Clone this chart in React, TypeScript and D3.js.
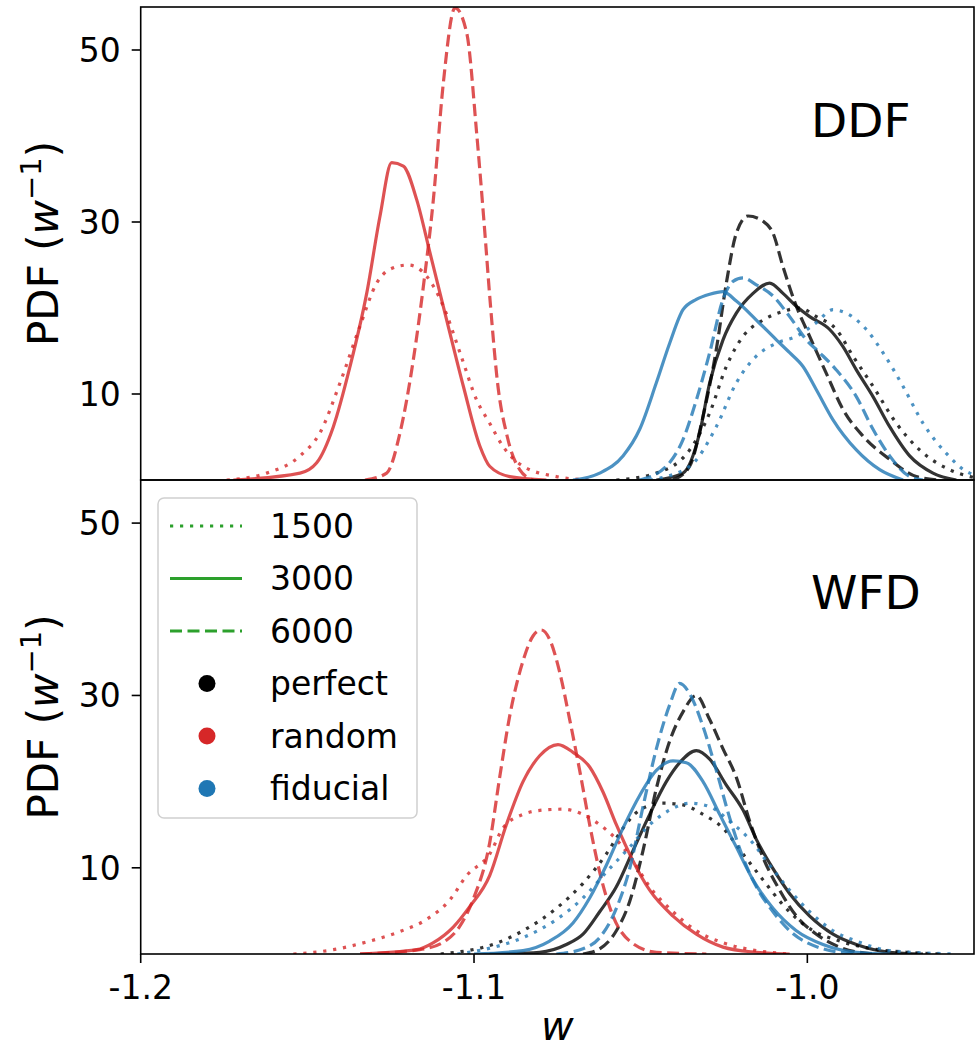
import React from "react";
import * as d3 from "d3";

// ---------- data (w, PDF) ----------
const xTicks = [-1.2, -1.1, -1.0];
const xTickLabels = ["-1.2", "-1.1", "-1.0"];
const yTicks = [10, 30, 50];
const panelNames = ["DDF", "WFD"];
const sizes = ["1500", "3000", "6000"];
const categories = ["perfect", "random", "fiducial"];

// DDF
const ddfPerfect1500 = [[-1.0573,0],[-1.0453,0.8],[-1.0353,3.5],[-1.0293,7.8],[-1.0243,13.2],[-1.0193,16.7],[-1.0133,18.6],[-1.0073,19.6],[-1.0023,20.0],[-0.9973,19.0],[-0.9913,17.5],[-0.9863,14.4],[-0.9803,10.9],[-0.9733,6.6],[-0.9663,3.5],[-0.9573,1.2],[-0.9513,0.4],[-0.945,0.1]];
const ddfPerfect3000 = [[-1.0453,0],[-1.0373,0.8],[-1.0323,5.5],[-1.0293,11.3],[-1.0253,16.3],[-1.0213,19.4],[-1.0163,21.7],[-1.0113,22.9],[-1.0073,21.7],[-1.0033,20.2],[-0.9993,19.0],[-0.9933,17.5],[-0.9893,15.5],[-0.9853,12.8],[-0.9803,9.7],[-0.9753,6.2],[-0.9693,2.8],[-0.9623,0.8],[-0.9553,0]];
const ddfPerfect6000 = [[-1.0403,0],[-1.0353,1.6],[-1.0313,7.4],[-1.0273,15.2],[-1.0243,22.9],[-1.0213,28.7],[-1.0178,30.7],[-1.0133,30.1],[-1.0103,28.7],[-1.0073,24.8],[-1.0033,20.2],[-0.9993,16.7],[-0.9943,12.4],[-0.9893,8.2],[-0.9833,5.1],[-0.9753,2.4],[-0.9673,0.4],[-0.9603,0]];
const ddfRandom1500 = [[-1.1742,0],[-1.1622,0.8],[-1.1522,2.8],[-1.1462,5.5],[-1.1402,11.3],[-1.1342,17.9],[-1.1292,22.9],[-1.1252,24.5],[-1.1197,25.0],[-1.1142,23.7],[-1.1092,20.2],[-1.1042,14.8],[-1.0992,9.3],[-1.0953,6.6],[-1.0913,3.9],[-1.0853,1.6],[-1.0753,0.4],[-1.0653,0]];
const ddfRandom3000 = [[-1.1722,0],[-1.1522,0.8],[-1.1472,2.0],[-1.1422,6.2],[-1.1372,13.2],[-1.1322,21.7],[-1.1282,30.7],[-1.1247,36.9],[-1.1212,36.5],[-1.1172,32.6],[-1.1132,26.4],[-1.1082,18.6],[-1.1032,10.9],[-1.0982,3.9],[-1.0953,1.6],[-1.0893,0.4],[-1.0783,0]];
const ddfRandom6000 = [[-1.1327,0],[-1.1262,0.8],[-1.1222,5.5],[-1.1182,14.0],[-1.1152,22.5],[-1.1122,32.6],[-1.1092,46.2],[-1.1057,54.9],[-1.1022,52.0],[-1.0992,40.3],[-1.0970,30.0],[-1.0950,20.0],[-1.0930,11.5],[-1.0900,5.0],[-1.0863,1.2],[-1.0823,0]];
const ddfFiducial1500 = [[-1.0473,0],[-1.0353,1.6],[-1.0273,6.2],[-1.0213,11.3],[-1.0153,14.4],[-1.0093,15.9],[-1.0033,16.7],[-0.9973,18.3],[-0.9923,19.8],[-0.9883,19.4],[-0.9823,17.5],[-0.9773,14.8],[-0.9713,10.9],[-0.9653,6.6],[-0.9583,3.1],[-0.9513,0.8],[-0.945,0.3]];
const ddfFiducial3000 = [[-1.0703,0],[-1.0623,0.8],[-1.0553,2.8],[-1.0503,5.9],[-1.0453,11.3],[-1.0413,15.9],[-1.0373,19.8],[-1.0333,21.0],[-1.0293,21.6],[-1.0253,21.9],[-1.0213,20.8],[-1.0153,18.6],[-1.0093,16.3],[-1.0053,14.8],[-1.0013,13.2],[-0.9973,10.5],[-0.9923,7.0],[-0.9853,3.5],[-0.9783,1.2],[-0.9713,0]];
const ddfFiducial6000 = [[-1.0503,0],[-1.0423,1.6],[-1.0373,4.7],[-1.0333,9.3],[-1.0293,14.8],[-1.0253,21.0],[-1.0223,23.1],[-1.0193,23.5],[-1.0153,22.7],[-1.0103,21.4],[-1.0053,19.0],[-1.0003,16.3],[-0.9963,14.8],[-0.9913,12.8],[-0.9853,9.7],[-0.9803,5.9],[-0.9753,2.8],[-0.9693,0.4],[-0.9653,0]];

// WFD
const wfdPerfect1500 = [[-1.1100,0],[-1.0923,1.4],[-1.0853,2.7],[-1.0753,5.3],[-1.0673,8.2],[-1.0603,11.6],[-1.0553,14.6],[-1.0503,16.7],[-1.0433,17.5],[-1.0373,17.3],[-1.0313,16.2],[-1.0253,14.6],[-1.0193,11.6],[-1.0133,8.6],[-1.0073,5.7],[-1.0003,3.2],[-0.9903,1.5],[-0.9803,0.6],[-0.9703,0.2],[-0.9603,0]];
const wfdPerfect3000 = [[-1.0953,0],[-1.0803,0.2],[-1.0723,1.1],[-1.0673,2.3],[-1.0623,4.9],[-1.0573,7.8],[-1.0523,12.0],[-1.0473,16.2],[-1.0423,20.0],[-1.0383,22.2],[-1.0333,23.6],[-1.0293,22.6],[-1.0243,19.6],[-1.0193,16.7],[-1.0153,13.3],[-1.0103,9.9],[-1.0053,7.0],[-0.9993,4.4],[-0.9923,2.3],[-0.9853,1.1],[-0.9753,0.2],[-0.9653,0]];
const wfdPerfect6000 = [[-1.0673,0],[-1.0623,0.6],[-1.0573,2.7],[-1.0533,6.1],[-1.0493,12.0],[-1.0453,19.2],[-1.0413,24.7],[-1.0373,28.1],[-1.0333,30.0],[-1.0293,27.2],[-1.0253,23.8],[-1.0213,20.5],[-1.0173,15.4],[-1.0133,11.2],[-1.0083,7.4],[-1.0033,4.4],[-0.9973,2.3],[-0.9903,0.8],[-0.9803,0]];
const wfdRandom1500 = [[-1.1542,0],[-1.1422,0.5],[-1.1322,1.4],[-1.1223,2.6],[-1.1143,4.0],[-1.1072,6.3],[-1.1022,9.1],[-1.0953,11.6],[-1.0913,14.6],[-1.0853,16.2],[-1.0793,16.7],[-1.0733,16.8],[-1.0673,16.2],[-1.0623,15.0],[-1.0573,13.3],[-1.0523,10.8],[-1.0473,7.8],[-1.0403,4.9],[-1.0333,2.7],[-1.0253,1.3],[-1.0153,0.4],[-1.0053,0]];
const wfdRandom3000 = [[-1.1342,0],[-1.1172,0.5],[-1.1123,1.3],[-1.1063,3.1],[-1.1013,5.5],[-1.0953,9.1],[-1.0903,15.0],[-1.0853,20.0],[-1.0803,23.0],[-1.0748,24.3],[-1.0703,23.4],[-1.0653,21.7],[-1.0613,18.8],[-1.0573,15.0],[-1.0523,10.8],[-1.0473,7.4],[-1.0403,4.4],[-1.0333,2.3],[-1.0253,0.8],[-1.0153,0.2],[-1.0053,0]];
const wfdRandom6000 = [[-1.1342,0],[-1.1163,0.5],[-1.1083,1.6],[-1.1043,3.2],[-1.1003,6.3],[-1.0953,12.9],[-1.0923,20.5],[-1.0893,27.6],[-1.0853,34.0],[-1.0823,36.9],[-1.0798,37.6],[-1.0773,36.5],[-1.0743,32.7],[-1.0713,27.2],[-1.0683,21.3],[-1.0653,15.0],[-1.0623,9.5],[-1.0583,4.4],[-1.0533,1.5],[-1.0453,0.2],[-1.0303,0]];
const wfdFiducial1500 = [[-1.1050,0],[-1.0973,0.5],[-1.0853,1.9],[-1.0753,4.0],[-1.0673,6.5],[-1.0603,9.5],[-1.0533,12.4],[-1.0473,15.0],[-1.0413,16.7],[-1.0353,17.5],[-1.0293,17.1],[-1.0233,15.4],[-1.0173,13.3],[-1.0113,10.3],[-1.0053,7.4],[-0.9993,4.9],[-0.9923,2.7],[-0.9853,1.5],[-0.9753,0.4],[-0.9553,0]];
const wfdFiducial3000 = [[-1.1000,0],[-1.0853,0.4],[-1.0773,1.5],[-1.0703,3.6],[-1.0653,6.5],[-1.0603,10.3],[-1.0553,14.6],[-1.0503,18.4],[-1.0453,21.3],[-1.0403,22.4],[-1.0363,22.2],[-1.0313,20.0],[-1.0263,16.2],[-1.0213,12.4],[-1.0163,8.6],[-1.0103,5.3],[-1.0033,2.7],[-0.9953,1.1],[-0.9853,0.2],[-0.9753,0]];
const wfdFiducial6000 = [[-1.0753,0],[-1.0673,0.6],[-1.0623,1.9],[-1.0573,5.3],[-1.0533,9.9],[-1.0493,17.1],[-1.0453,23.8],[-1.0413,28.9],[-1.0383,31.4],[-1.0353,30.2],[-1.0313,26.4],[-1.0273,21.3],[-1.0233,15.8],[-1.0193,11.2],[-1.0153,7.8],[-1.0103,4.9],[-1.0053,2.7],[-0.9953,0.6],[-0.9853,0]];

const panelSeries = [
  [
    [ddfPerfect1500, ddfPerfect3000, ddfPerfect6000],
    [ddfRandom1500, ddfRandom3000, ddfRandom6000],
    [ddfFiducial1500, ddfFiducial3000, ddfFiducial6000],
  ],
  [
    [wfdPerfect1500, wfdPerfect3000, wfdPerfect6000],
    [wfdRandom1500, wfdRandom3000, wfdRandom6000],
    [wfdFiducial1500, wfdFiducial3000, wfdFiducial6000],
  ],
];

// ---------- styles ----------
const catColors = ["#000000", "#d62728", "#1f77b4"];
const legendLineColor = "#2ca02c";
const LW = 3.2;
const dashes = ["3.2 6.8", "", "12 5.5"];
const FONT = "DejaVu Sans, sans-serif";

const W = 980;
const H = 1050;
const left = 140.7;
const right = 974;
const panelTops = [7, 480];
const panelBottoms = [480, 954];

export default function App() {
  const x = d3.scaleLinear().domain([-1.2, -0.95]).range([left, right]);
  const yScales = panelTops.map((t, i) =>
    d3.scaleLinear().domain([0, 55]).range([panelBottoms[i], t])
  );

  const legendRows = [
    ...sizes.map((s, i) => ({ label: s, type: "line", dash: dashes[i] })),
    ...categories.map((c, i) => ({ label: c, type: "dot", color: catColors[i] })),
  ];

  return (
    <svg
      width={W}
      height={H}
      style={{ position: "absolute", left: 0, top: 0, background: "#fff" }}
      fontFamily={FONT}
    >
      <defs>
        {panelTops.map((t, i) => (
          <clipPath id={`clip${i}`} key={i}>
            <rect x={left} y={t} width={right - left} height={panelBottoms[i] - t} />
          </clipPath>
        ))}
      </defs>
      {panelNames.map((name, pi) => {
        const y = yScales[pi];
        const line = d3
          .line<number[]>()
          .x((d) => x(d[0]))
          .y((d) => y(d[1]))
          .curve(d3.curveMonotoneX);
        const top = panelTops[pi];
        const bottom = panelBottoms[pi];
        return (
          <g key={name}>
            <g clipPath={`url(#clip${pi})`}>
              {panelSeries[pi].map((catArr, ci) =>
                catArr.map((data, si) => (
                  <path
                    key={`${ci}-${si}`}
                    d={line(data as number[][]) || ""}
                    fill="none"
                    stroke={catColors[ci]}
                    strokeOpacity={0.8}
                    strokeWidth={LW}
                    strokeDasharray={dashes[si] || undefined}
                    strokeLinejoin="round"
                  />
                ))
              )}
            </g>
            {/* frame */}
            <rect
              x={left}
              y={top}
              width={right - left}
              height={bottom - top}
              fill="none"
              stroke="#000"
              strokeWidth={1.6}
            />
            {/* y ticks */}
            {yTicks.map((t) => (
              <g key={t}>
                <line x1={left - 9} x2={left} y1={y(t)} y2={y(t)} stroke="#000" strokeWidth={1.6} />
                <text
                  x={left - 20}
                  y={y(t)}
                  dy="0.36em"
                  textAnchor="end"
                  fontSize={33}
                  fill="#000"
                >
                  {t}
                </text>
              </g>
            ))}
            {/* panel label */}
            <text x={811} y={top + (pi === 0 ? 130 : 129)} fontSize={47} fill="#000">
              {name}
            </text>
            {/* y label */}
            <text
              transform={`translate(58,${(top + bottom) / 2}) rotate(-90)`}
              textAnchor="middle"
              fontSize={42}
              fill="#000"
            >
              PDF (<tspan fontStyle="italic">w</tspan>
              <tspan fontSize={29} dy={-17}>−1</tspan>
              <tspan dy={17}>)</tspan>
            </text>
          </g>
        );
      })}
      {/* x ticks on bottom panel */}
      {xTicks.map((t, i) => (
        <g key={t}>
          <line x1={x(t)} x2={x(t)} y1={panelBottoms[1]} y2={panelBottoms[1] + 9} stroke="#000" strokeWidth={1.6} />
          <text x={x(t)} y={999} textAnchor="middle" fontSize={33} fill="#000">
            {xTickLabels[i]}
          </text>
        </g>
      ))}
      <text x={(left + right) / 2} y={1040} textAnchor="middle" fontSize={40} fontStyle="italic" fill="#000">
        w
      </text>
      {/* legend */}
      <g>
        <rect x={158} y={498} width={259} height={320} rx={6} fill="#fff" fillOpacity={0.8} stroke="#d0d0d0" strokeWidth={1.5} />
        {legendRows.map((r, i) => {
          const yy = 526 + i * 52.5;
          return (
            <g key={r.label}>
              {r.type === "line" ? (
                <line
                  x1={170}
                  x2={242}
                  y1={yy}
                  y2={yy}
                  stroke={legendLineColor}
                  strokeWidth={LW}
                  strokeDasharray={r.dash || undefined}
                />
              ) : (
                <circle cx={207} cy={yy} r={8.5} fill={r.color} />
              )}
              <text x={270} y={yy} dy="0.36em" fontSize={33} fill="#000">
                {r.label}
              </text>
            </g>
          );
        })}
      </g>
    </svg>
  );
}
